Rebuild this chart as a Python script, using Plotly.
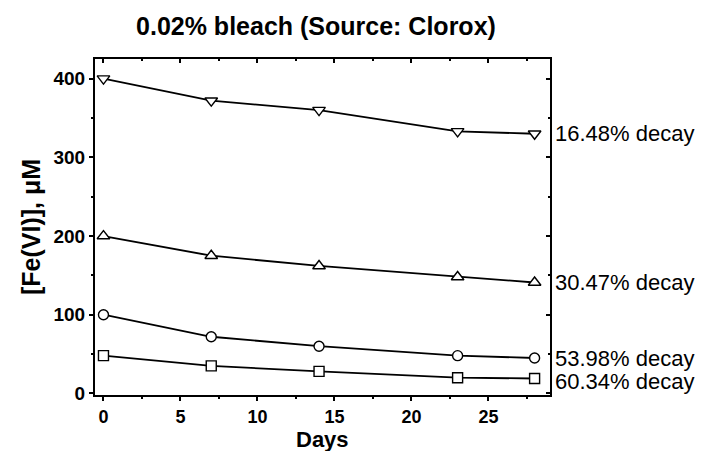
import plotly.graph_objects as go

days = [0, 7, 14, 23, 28]
s400 = [400, 372, 360, 333, 330]
s200 = [200, 175, 162, 148, 141]
s100 = [100, 72, 60, 48, 45]
s50 = [48, 35, 28, 20, 19]
series = [
    (s400, "triangle-down", "16.48% decay", 0),
    (s200, "triangle-up", "30.47% decay", 0),
    (s100, "circle", "53.98% decay", 0),
    (s50, "square", "60.34% decay", -3),
]

FONT = "Arial, 'Liberation Sans', Helvetica, sans-serif"
fig = go.Figure()
for vals, sym, lab, dy in series:
    fig.add_trace(go.Scatter(
        x=days, y=vals, mode="lines+markers",
        line=dict(color="black", width=1.8),
        marker=dict(symbol=sym, size=11 if "triangle" in sym else 10, color="white",
                    line=dict(color="black", width=1.4)),
        showlegend=False))
    fig.add_annotation(x=1, xref="paper", y=vals[-1], yref="y", yshift=dy,
                       text=lab, showarrow=False, xanchor="left", xshift=3,
                       font=dict(family=FONT, size=22, color="black"))

# x-axis title placed as an annotation just above the bottom edge
fig.add_annotation(x=0.5, xref="paper", y=-0.167, yref="paper", yanchor="bottom",
                   yshift=-3, text="<b>Days</b>", showarrow=False,
                   font=dict(family=FONT, size=22, color="black"))

# invisible trace for top/right mirrored inside-tick axes
fig.add_trace(go.Scatter(x=[days[0]], y=[s400[0]], xaxis="x2", yaxis="y2",
                         mode="markers", marker=dict(opacity=0), showlegend=False,
                         hoverinfo="skip"))

xr = [-0.55, 29.0]
yr = [-2, 425]
fig.update_layout(
    width=710, height=451,
    margin=dict(l=95, r=160, t=59, b=56, autoexpand=False),
    plot_bgcolor="white", paper_bgcolor="white",
    title=dict(text="<b>0.02% bleach (Source: Clorox)</b>", x=0.445, xref="container",
               xanchor="center", y=0.942, yref="container", yanchor="middle",
               font=dict(family=FONT, size=25, color="black")),
    xaxis=dict(range=xr, tickvals=[0, 5, 10, 15, 20, 25], ticks="outside", ticklen=4,
               tickwidth=1.5, tickcolor="black", showline=True, linecolor="black",
               linewidth=2, showgrid=False, zeroline=False, automargin=False,
               minor=dict(tickvals=[2.5, 7.5, 12.5, 17.5, 22.5, 27.5], ticks="outside",
                          ticklen=2, tickcolor="black"),
               tickfont=dict(family=FONT, size=18, color="black", weight="bold")),
    yaxis=dict(range=yr, tickvals=[0, 100, 200, 300, 400], ticks="outside", ticklen=4,
               tickwidth=1.5, tickcolor="black", showline=True, linecolor="black",
               linewidth=2, showgrid=False, zeroline=False, automargin=False,
               minor=dict(tickvals=[50, 150, 250, 350], ticks="outside", ticklen=2,
                          tickcolor="black"),
               tickfont=dict(family=FONT, size=19, color="black", weight="bold"),
               title=dict(text="<b>[Fe(VI)], μM</b>", standoff=6,
                          font=dict(family=FONT, size=25, color="black"))),
    xaxis2=dict(range=xr, overlaying="x", side="top", anchor="y2", automargin=False,
                tickvals=[0, 5, 10, 15, 20, 25], ticks="inside", ticklen=4, tickwidth=1.5,
                tickcolor="black", showticklabels=False, showline=True, linecolor="black",
                linewidth=2, showgrid=False, zeroline=False,
                minor=dict(tickvals=[2.5, 7.5, 12.5, 17.5, 22.5, 27.5], ticks="inside",
                           ticklen=2, tickcolor="black")),
    yaxis2=dict(range=yr, overlaying="y", side="right", anchor="x2", automargin=False,
                tickvals=[0, 100, 200, 300, 400], ticks="inside", ticklen=4, tickwidth=1.5,
                tickcolor="black", showticklabels=False, showline=True, linecolor="black",
                linewidth=2, showgrid=False, zeroline=False,
                minor=dict(tickvals=[50, 150, 250, 350], ticks="inside", ticklen=2,
                           tickcolor="black")),
)
fig.write_html("out.html")
